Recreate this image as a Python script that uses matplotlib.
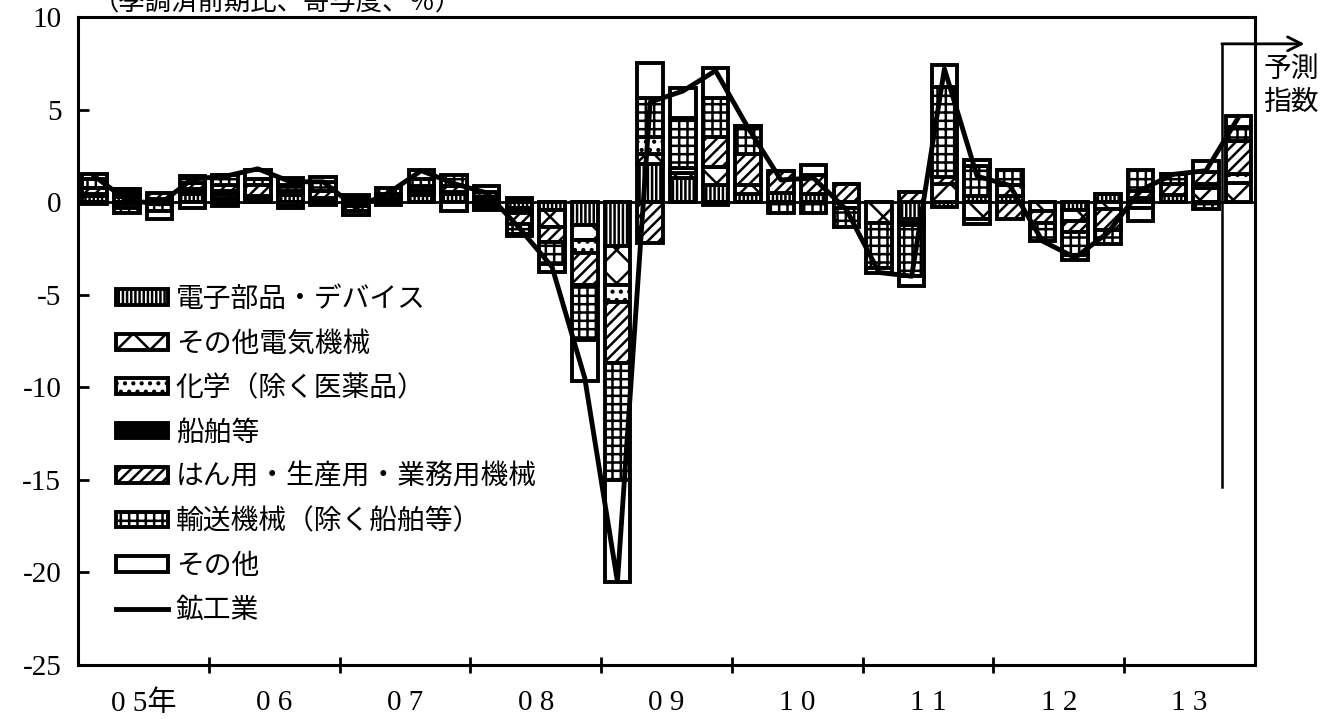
import numpy as np
import matplotlib

matplotlib.use("Agg")
import matplotlib.pyplot as plt

plt.rcParams['font.family'] = ['Liberation Serif', 'Noto Sans CJK JP']
plt.rcParams['axes.unicode_minus'] = False
plt.rcParams['hatch.linewidth'] = 1.8

# 2005Q1 .. 2013Q4 (last quarter is the forecast)
year_labels = ['0 5年', '0 6', '0 7', '0 8', '0 9', '1 0', '1 1', '1 2', '1 3']

elec = [0.35, 0.3, 0.15, 0.45, 0.25, 0.2, 0.4, 0.2, 0.15, 0.2, 0.4, 0.45,
        0.1, -0.3, -0.45, -1.25, -2.35, 2.05, 1.3, 0.9, 0.45, 0.5, 0.45, 0.0,
        0.0, -0.9, -0.25, 0.35, 0.35, 0.0, -0.45, 0.45, 0.25, 0.4, 0.0, 0.0]
other_elec = [-0.1, 0.1, -0.1, 0.15, 0.2, 0.0, -0.2, 0.0, 0.1, 0.0, 0.1, 0.1,
              -0.15, -0.2, -0.9, -0.8, -2.15, 0.55, 0.3, 1.0, 0.45, 0.0, 0.0, -0.3,
              -1.1, -0.2, 1.0, -0.9, 0.6, -0.5, -0.55, -0.35, 0.0, 0.0, 0.75, 1.05]
chem = [0.1, -0.1, 0.0, 0.1, 0.15, 0.15, 0.0, -0.15, 0.0, 0.0, 0.15, 0.0,
        -0.15, -0.1, 0.0, -0.7, -0.9, 0.9, 0.25, -0.15, 0.0, 0.0, 0.0, 0.0,
        0.0, -0.15, 0.0, -0.3, 0.0, 0.0, 0.0, 0.0, -0.3, 0.0, 0.25, 0.45]
ships = [0.0, 0.3, 0.0, 0.0, -0.2, 0.0, -0.1, 0.0, -0.2, 0.0, 0.0, 0.0,
         -0.1, 0.2, 0.0, 0.0, 0.0, 0.0, 0.0, 0.0, 0.0, 0.0, 0.0, 0.0,
         0.0, 0.0, 0.0, 0.0, 0.0, 0.0, 0.0, 0.0, 0.0, 0.0, 0.0, 0.0]
machinery = [0.3, -0.2, 0.35, 0.35, 0.3, 0.6, 0.2, 0.4, 0.15, 0.25, 0.2, 0.3,
             0.2, -0.6, -0.8, -1.7, -3.3, -2.2, 0.0, 1.6, 1.7, 1.2, 1.0, 1.0,
             0.0, 0.55, 0.35, 0.0, -0.9, -0.65, -0.6, -1.15, 0.35, 0.6, 0.65, 1.8]
transport = [0.5, -0.3, -0.4, 0.35, 0.55, 0.3, 0.3, 0.5, -0.3, 0.3, 0.4, 0.6,
             0.25, -0.5, -1.2, -3.0, -6.3, 2.15, 2.7, 2.15, 1.5, -0.6, -0.6, -1.05,
             -2.45, -2.75, 4.85, 1.6, 0.8, -0.95, -1.25, -0.75, 1.15, 0.5, -0.35, 0.75]
others = [0.25, 0.0, -0.4, -0.3, 0.0, 0.5, 0.4, 0.25, -0.2, -0.15, 0.5, -0.5,
          0.3, -0.15, -0.4, -2.2, -5.5, 1.85, 1.6, 1.6, 0.0, 0.0, 0.55, 0.0,
          -0.3, -0.55, 1.2, 0.3, 0.0, 0.0, -0.25, 0.0, -0.7, 0.0, 0.55, 0.6]
mining = [1.4, 0.1, -0.1, 1.25, 1.4, 1.8, 1.1, 1.1, -0.3, 0.5, 1.7, 1.0,
          0.5, -1.4, -3.5, -9.5, -20.5, 5.4, 6.0, 7.1, 4.0, 1.2, 1.3, -0.4,
          -3.8, -4.0, 7.2, 1.4, 0.9, -2.1, -3.0, -1.65, 0.65, 1.5, 1.7, 4.6]

series = [
    ('電子部品・デバイス', elec, 'white', '||||'),
    ('その他電気機械', other_elec, 'white', 'x'),
    ('化学（除く医薬品）', chem, 'white', '..'),
    ('船舶等', ships, 'black', None),
    ('はん用・生産用・業務用機械', machinery, 'white', '///'),
    ('輸送機械（除く船舶等）', transport, 'white', '++'),
    ('その他', others, 'white', None),
]

x = np.arange(len(mining))

fig = plt.figure(figsize=(13.22, 7.19), dpi=100)
ax = fig.add_axes([78 / 1322, 1 - 665 / 719, (1255 - 78) / 1322, (665 - 17) / 719])

pos_base = np.zeros(len(x))
neg_base = np.zeros(len(x))
handles = []
for name, vals, fc, hatch in series:
    v = np.array(vals)
    bottom = np.where(v >= 0, pos_base, neg_base)
    bars = ax.bar(x, v, width=0.78, bottom=bottom, facecolor=fc, edgecolor='black',
                  hatch=hatch, linewidth=2.8, zorder=3, label=name)
    handles.append(bars)
    pos_base += np.clip(v, 0, None)
    neg_base += np.clip(v, None, 0)

ax.axhline(0, color='black', lw=2, zorder=2)
line, = ax.plot(x, mining, color='black', lw=3.5, zorder=6, label='鉱工業')
handles.append(line)

ax.set_xlim(-0.5, 35.5)
ax.set_ylim(-25, 10)
ax.set_yticks(range(-25, 11, 5))
ax.tick_params(axis='y', direction='in', length=8, width=2, labelsize=21, pad=12)

ax.set_xticks(np.arange(3.5, 32, 4))
ax.set_xticklabels([])
ax.set_xticks(np.arange(1.5, 36, 4), minor=True)
ax.set_xticklabels(year_labels, minor=True, fontsize=21)
ax.tick_params(axis='x', which='major', direction='inout', length=12, width=2)
ax.tick_params(axis='x', which='minor', length=0, pad=18)

for s in ax.spines.values():
    s.set_linewidth(2.2)

# forecast marker
ax.plot([34.48, 34.48], [-15.4, 8.55], color='black', lw=1.8, zorder=4)
ax.annotate('', xy=(37.1, 8.55), xytext=(34.4, 8.55), annotation_clip=False,
            arrowprops=dict(arrowstyle='->', lw=2, color='black', mutation_scale=25))
ax.text(36.6, 6.3, '予測\n指数', ha='center', va='center', fontsize=20,
        family=['Noto Sans CJK JP'], linespacing=1.1, clip_on=False)

fig.text(93 / 1322, 1 - 3 / 719, '（季調済前期比、寄与度、％）', ha='left', va='center',
         fontsize=19, family=['Noto Sans CJK JP'])

ax.legend(handles=handles, labels=[s[0] for s in series] + ['鉱工業'],
          loc='upper left', bbox_to_anchor=(0.023, 0.605), frameon=False,
          prop=dict(family='Noto Sans CJK JP', size=20), handlelength=1.85,
          handleheight=0.5, handletextpad=0.3, labelspacing=0.52, borderaxespad=0)

fig.savefig('out.png', dpi=100)
